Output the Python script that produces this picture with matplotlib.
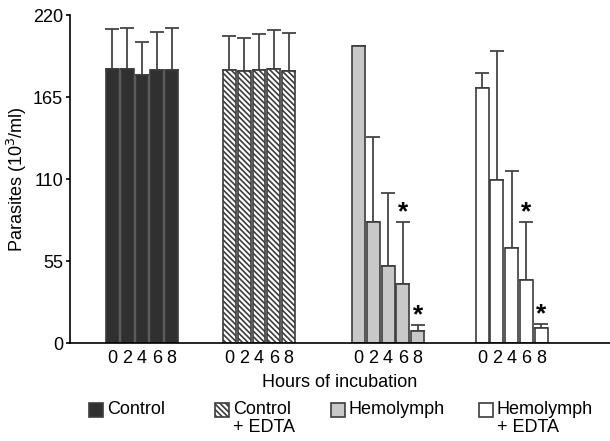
import numpy as np
import matplotlib.pyplot as plt
from matplotlib.patches import Rectangle

plt.rcParams['font.family'] = ['Liberation Sans', 'DejaVu Sans']
plt.rcParams['hatch.linewidth'] = 1.2

hours = ["0", "2", "4", "6", "8"]
groups = ["Control", "Control\n+ EDTA", "Hemolymph", "Hemolymph\n+ EDTA"]

control = [184.0, 183.5, 179.7, 182.8, 183.1]
control_err = [26.6, 27.5, 22.4, 25.5, 27.9]
control_edta = [183.1, 182.6, 183.1, 184.0, 182.6]
control_edta_err = [22.8, 22.0, 24.3, 25.7, 25.0]
hemo = [198.9, 81.2, 51.8, 39.6, 7.8]
hemo_err = [0.0, 56.7, 49.0, 41.6, 4.0]
hemo_edta = [170.8, 109.3, 63.4, 42.3, 10.1]
hemo_edta_err = [10.5, 86.3, 52.2, 38.9, 2.6]

# significant bars (index into hours)
signif = [3, 4]

values = [control, control_edta, hemo, hemo_edta]
errors = [control_err, control_edta_err, hemo_err, hemo_edta_err]
centers = [4.88, 12.81, 21.56, 29.93]
faces = ["#303030", "white", "#c8c8c8", "white"]
hatches = [None, "\\\\\\\\\\\\", None, None]
edge = "#3c3c3c"

fig = plt.figure(figsize=(6.1, 4.41), dpi=100)
ax = fig.add_axes([70 / 610, 98 / 441, 540 / 610, 328 / 441])

width = 0.88
xticks, xlabels = [], []
for g in range(4):
    xs = centers[g] + np.arange(5) - 2
    ax.bar(xs, values[g], width, color=faces[g], edgecolor=edge,
           linewidth=1.2, hatch=hatches[g], zorder=2)
    ax.errorbar(xs, values[g], yerr=[np.zeros(5), errors[g]], fmt="none",
                ecolor="#444444", elinewidth=1.3, capsize=4.7, capthick=1.3,
                zorder=1)
    if g >= 2:
        for i in signif:
            ax.text(xs[i], values[g][i] + errors[g][i] - 1.5, "*", ha="center",
                    va="bottom", fontsize=19, fontweight="bold")
    xticks.extend(xs)
    xlabels.extend(hours)

ax.set_xlim(0, 36.6)
ax.set_ylim(0, 220)
ax.set_yticks([0, 55, 110, 165, 220])
ax.set_xticks(xticks)
ax.set_xticklabels(xlabels, fontsize=13)
ax.tick_params(axis="x", length=0, pad=5)
ax.tick_params(axis="y", labelsize=13, length=3, width=1.2, pad=2)
for s in ["top", "right"]:
    ax.spines[s].set_visible(False)
ax.spines["left"].set_linewidth(1.2)
ax.spines["bottom"].set_linewidth(1.2)

ax.set_xlabel("Hours of incubation", fontsize=13, labelpad=5)
ax.set_ylabel("Parasites (10$^3$/ml)", fontsize=13, labelpad=3)

# legend drawn by hand: swatch + text, second line left aligned under the first
W, H = 610, 441
leg_x = [89, 215, 331, 479]
for g in range(4):
    fig.add_artist(Rectangle((leg_x[g] / W, 1 - 417 / H), 14 / W, 14 / H,
                             transform=fig.transFigure, facecolor=faces[g],
                             edgecolor=edge, linewidth=1.2, hatch=hatches[g]))
    lines = groups[g].split("\n")
    for k, line in enumerate(lines):
        fig.text((leg_x[g] + 18) / W, 1 - (410 + 18 * k) / H, line,
                 fontsize=13, ha="left", va="center")

fig.savefig("out.png", dpi=100)
